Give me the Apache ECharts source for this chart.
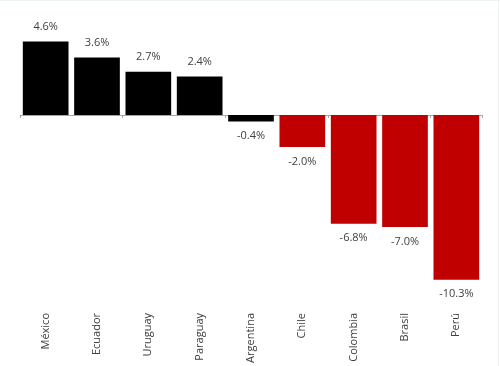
<!DOCTYPE html>
<html><head><meta charset="utf-8">
<script src="https://cdn.jsdelivr.net/npm/echarts@6/dist/echarts.min.js"></script>
<style>html,body{margin:0;padding:0;background:#fff}#c{width:500px;height:366px}</style>
</head><body><div id="c"></div>
<script>
const categories = ['México','Ecuador','Uruguay','Paraguay','Argentina','Chile','Colombia','Brasil','Perú'];
const values = [4.6, 3.6, 2.7, 2.4, -0.4, -2.0, -6.8, -7.0, -10.3];
const colorPos = '#000000';
const colorNeg = '#c00000';
const negColorFrom = 5; // Chile onward drawn in red

const chart = echarts.init(document.getElementById('c'), null, {renderer:'canvas'});
const font = '"Open Sans", "Noto Sans", sans-serif';
chart.setOption({
  animation:false,
  backgroundColor:'#fff',
  grid:{left:20,right:18,top:19,bottom:59},
  xAxis:[{
    type:'category', data:categories, position:'bottom',
    axisLine:{show:false,onZero:false}, axisTick:{show:false},
    axisLabel:{rotate:90, margin:6, fontSize:11, color:'#404040', fontFamily:font, interval:0}
  },{
    type:'category', data:categories, position:'bottom',
    axisLine:{show:true,onZero:true,lineStyle:{color:'#a6a6a6',width:1}},
    axisTick:{show:true,length:3,inside:false,lineStyle:{color:'#a6a6a6'}},
    axisLabel:{show:false}
  }],
  yAxis:{type:'value', min:-12, max:6, show:false, splitLine:{show:false}},
  series:[{
    type:'bar', xAxisIndex:0, barCategoryGap:'11%',
    data: values.map((v,i)=>({value:v, itemStyle:{color: i>=negColorFrom ? colorNeg : colorPos},
      label:{position: v>=0 ? 'top':'bottom'}})),
    label:{show:true, distance:9, fontSize:11, color:'#404040', fontFamily:font,
      formatter:p=>p.value.toFixed(1)+'%'}
  }],
  graphic:[
    {type:'line', shape:{x1:0,y1:0.5,x2:500,y2:0.5}, style:{stroke:'#eef3f5',lineWidth:1}},
    {type:'line', shape:{x1:498.5,y1:0,x2:498.5,y2:366}, style:{stroke:'#eef3f5',lineWidth:1}}
  ]
});
</script></body></html>
